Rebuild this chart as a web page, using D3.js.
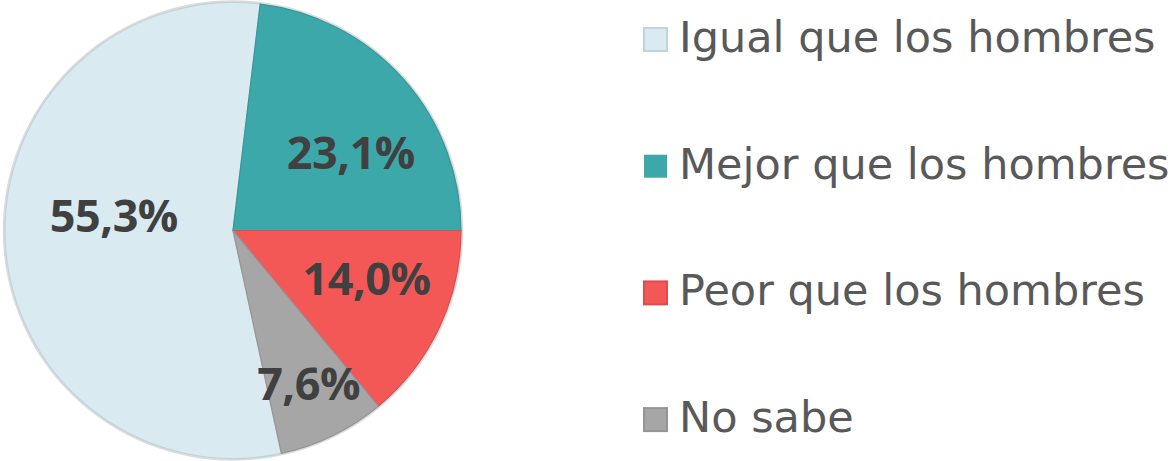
<!DOCTYPE html>
<html>
<head>
<meta charset="utf-8">
<script src="https://cdn.jsdelivr.net/npm/d3@7"></script>
<style>
  body { margin: 0; background: #fff; }
  svg { display: block; }
</style>
</head>
<body>
<div id="chart"></div>
<script>
// data, legend order
const categories = ["Igual que los hombres", "Mejor que los hombres", "Peor que los hombres", "No sabe"]
const values = [55.3, 23.1, 14.0, 7.6]
const labels = ["55,3%", "23,1%", "14,0%", "7,6%"]
const colors = ["#D9EBF1", "#3DA8AA", "#F45856", "#A6A6A6"]
const strokes = ["#BFD3DA", "#379799", "#DC4E4C", "#959595"]

const width = 1172
const height = 461
const cx = 233, cy = 230.5, radius = 228

// Excel-style rotation: first slice starts at ~167.8 deg
const startDeg = 167.76
// label placement tweaks (angle shift in deg, radius in px) like Excel's best fit
const labelShift = [9.6, 8.3, -5.3, -0.3]
const labelRad = [120, 141, 142, 171]

const svg = d3.select("#chart").append("svg")
  .attr("width", width)
  .attr("height", height)

const pie = d3.pie()
  .sort(null)
  .value(d => d)
  .startAngle(startDeg * Math.PI / 180)
  .endAngle((startDeg + 360) * Math.PI / 180)

const arc = d3.arc().innerRadius(0).outerRadius(radius)
const arcs = pie(values)

const g = svg.append("g").attr("transform", "translate(" + cx + "," + cy + ")")

// light outer ring
g.append("circle")
  .attr("r", radius + 1)
  .attr("fill", "none")
  .attr("stroke", "#dcdcdc")
  .attr("stroke-width", 2.5)

g.selectAll("path.slice")
  .data(arcs)
  .enter().append("path")
  .attr("class", "slice")
  .attr("d", arc)
  .attr("fill", (d, i) => colors[i])
  .attr("stroke", (d, i) => strokes[i])
  .attr("stroke-width", 1.2)

g.selectAll("text.lbl")
  .data(arcs)
  .enter().append("text")
  .attr("class", "lbl")
  .attr("x", (d, i) => {
    const a = (d.startAngle + d.endAngle) / 2 + labelShift[i] * Math.PI / 180
    return Math.sin(a) * labelRad[i]
  })
  .attr("y", (d, i) => {
    const a = (d.startAngle + d.endAngle) / 2 + labelShift[i] * Math.PI / 180
    return -Math.cos(a) * labelRad[i]
  })
  .attr("dy", "0.36em")
  .attr("text-anchor", "middle")
  .style("font-family", "'Open Sans', sans-serif")
  .style("font-weight", "bold")
  .style("font-size", "45px")
  .style("letter-spacing", "-0.5px")
  .attr("fill", "#404040")
  .text((d, i) => labels[i])

// legend
const legend = svg.append("g").attr("transform", "translate(644,52)")
const rowH = 126.7

const item = legend.selectAll("g.item")
  .data(categories)
  .enter().append("g")
  .attr("class", "item")
  .attr("transform", (d, i) => "translate(0," + (i * rowH) + ")")

item.append("rect")
  .attr("x", 0)
  .attr("y", -24)
  .attr("width", 23)
  .attr("height", 23)
  .attr("fill", (d, i) => colors[i])
  .attr("stroke", (d, i) => i == 1 ? "none" : strokes[i])
  .attr("stroke-width", 2)

item.append("text")
  .attr("x", 35)
  .attr("y", 0)
  .style("font-family", "'DejaVu Sans', sans-serif")
  .style("font-size", "43px")
  .attr("fill", "#595959")
  .text(d => d)
</script>
</body>
</html>
